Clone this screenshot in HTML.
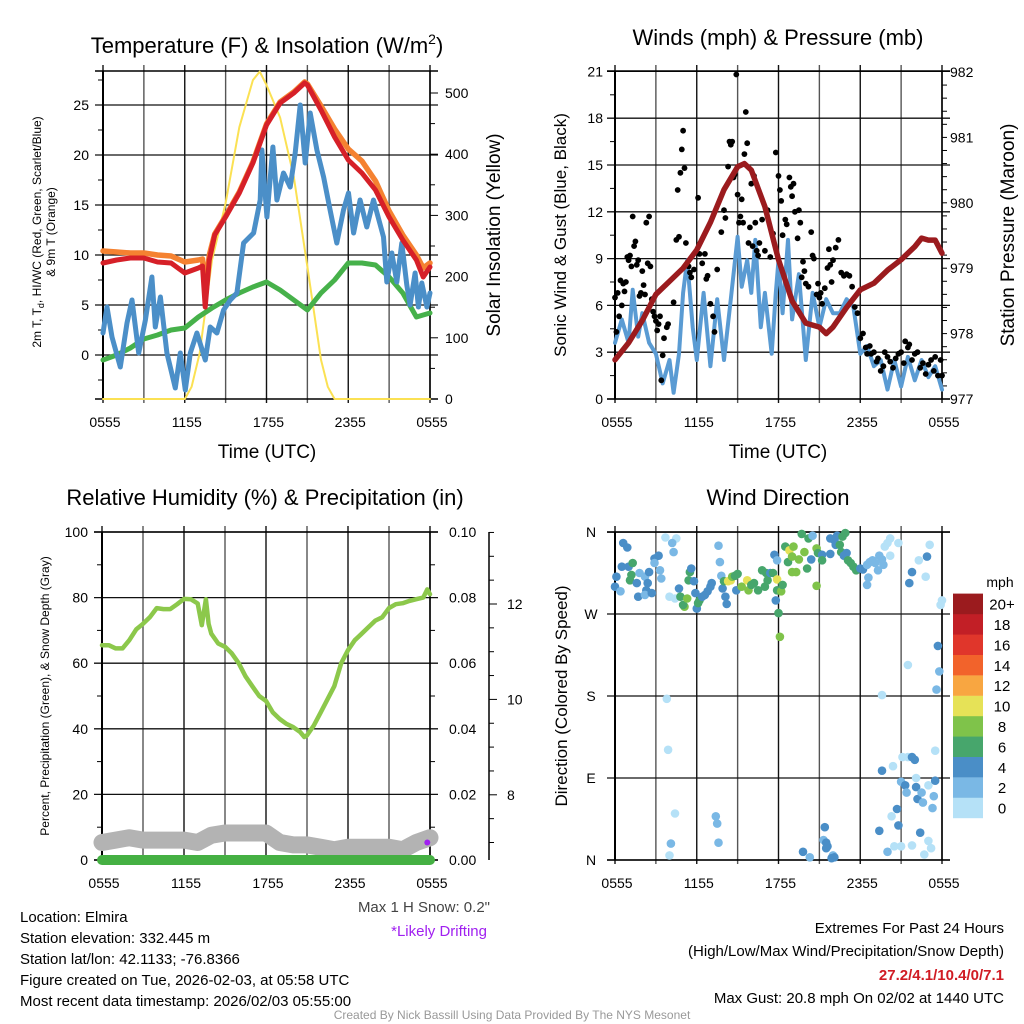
<!DOCTYPE html>
<html><head><meta charset="utf-8"><style>
html,body{margin:0;padding:0;background:#fff;}
svg{display:block;font-family:"Liberation Sans",Arial,sans-serif;}
</style></head><body>
<svg id="c" width="1024" height="1024" viewBox="0 0 1024 1024" xmlns="http://www.w3.org/2000/svg">
<rect width="1024" height="1024" fill="#fff"/>
<g id="grid"></g>
<g id="series"></g>
<g id="labels" fill="#000">
<text x="267" y="53" font-size="22" text-anchor="middle">Temperature (F) &amp; Insolation (W/m<tspan dy="-9" font-size="14">2</tspan><tspan dy="9">)</tspan></text>
<text x="778" y="45" font-size="22" text-anchor="middle">Winds (mph) &amp; Pressure (mb)</text>
<text x="265" y="505" font-size="22" text-anchor="middle">Relative Humidity (%) &amp; Precipitation (in)</text>
<text x="778" y="505" font-size="22" text-anchor="middle">Wind Direction</text>
<text transform="translate(41,232) rotate(-90)" font-size="12" text-anchor="middle">2m T, T<tspan dy="3" font-size="9">d</tspan><tspan dy="-3">, HI/WC (Red, Green, Scarlet/Blue)</tspan></text>
<text transform="translate(55,232) rotate(-90)" font-size="12" text-anchor="middle">&amp; 9m T (Orange)</text>
<text transform="translate(500,235) rotate(-90)" font-size="19" text-anchor="middle">Solar Insolation (Yellow)</text>
<text x="267" y="458" font-size="19" text-anchor="middle">Time (UTC)</text>
<text x="778" y="458" font-size="19" text-anchor="middle">Time (UTC)</text>
<text transform="translate(566,235) rotate(-90)" font-size="17" text-anchor="middle">Sonic Wind &amp; Gust (Blue, Black)</text>
<text transform="translate(1014,235) rotate(-90)" font-size="19" text-anchor="middle">Station Pressure (Maroon)</text>
<text transform="translate(49,696) rotate(-90)" font-size="12" text-anchor="middle">Percent, Precipitation (Green), &amp; Snow Depth (Gray)</text>
<text transform="translate(567,696) rotate(-90)" font-size="17" text-anchor="middle">Direction (Colored By Speed)</text>
<text x="490" y="912" font-size="15" text-anchor="end" fill="#444">Max 1 H Snow: 0.2"</text>
<text x="487" y="936" font-size="15" text-anchor="end" fill="#a020f0">*Likely Drifting</text>
<g font-size="15">
<text x="20" y="922">Location: Elmira</text>
<text x="20" y="943">Station elevation: 332.445 m</text>
<text x="20" y="964">Station lat/lon: 42.1133; -76.8366</text>
<text x="20" y="985">Figure created on Tue, 2026-02-03, at 05:58 UTC</text>
<text x="20" y="1006">Most recent data timestamp: 2026/02/03 05:55:00</text>
</g>
<g font-size="15" text-anchor="end">
<text x="1004" y="933">Extremes For Past 24 Hours</text>
<text x="1004" y="956">(High/Low/Max Wind/Precipitation/Snow Depth)</text>
<text x="1004" y="980" fill="#d01c24" font-weight="bold">27.2/4.1/10.4/0/7.1</text>
<text x="1004" y="1003">Max Gust: 20.8 mph On 02/02 at 1440 UTC</text>
</g>
<text x="512" y="1019" font-size="12" text-anchor="middle" fill="#999">Created By Nick Bassill Using Data Provided By The NYS Mesonet</text>
<text x="1000" y="587" font-size="14" text-anchor="middle">mph</text>
</g>
</svg>
<script>
// ---------- data ----------
const xTickLabels = ["0555","1155","1755","2355","0555"];
const tempTimes = [0,1,2,3,4,5,6,7,7.3,7.5,7.8,8.2,9,10,11,12,13,14,14.8,15,16,17,18,19,20,21,22,23,23.5,24];
const temp2m = [9.2,9.5,9.7,9.7,9.3,9.2,8.2,8.7,8.9,4.8,9.5,12,13.8,16.2,19.2,23,25.2,26.2,27.2,27,24.5,21.8,19.5,18.2,16.5,13.8,11.5,9.5,7.8,8.8];
const temp9m = [10.4,10.3,10.2,10.2,10.0,9.9,9.3,9.5,9.6,6.5,10,12.1,13.9,16.3,19.3,23.1,25.3,26.3,27.3,27.1,24.9,22.6,20.6,19.4,17.4,14.4,12,10,8.7,9.2];
const dewTimes = [0,1,2,3,4,5,6,7,8,9,10,11,12,13,14,15,16,17,18,19,20,21,22,23,24];
const dewpoint = [-0.5,0,0.7,1.6,2,2.5,2.7,3.8,4.7,5.5,6.2,6.8,7.3,6.5,5.5,4.5,6.2,7.5,9.2,9.2,9,7.8,6.2,3.8,4.2];
const wcTimes = [0,0.29,0.66,1.27,1.76,2.13,2.62,3.11,3.59,3.84,4.21,4.69,5.31,5.67,6.04,6.41,6.89,7.51,7.87,8.36,8.85,9.34,9.83,10.32,11.05,11.54,11.66,12.03,12.47,12.76,13.25,13.74,14.11,14.47,14.84,15.21,15.7,16.19,16.67,17.16,17.65,18.02,18.39,18.87,19.36,19.85,20.59,20.83,21.2,21.56,21.93,22.3,22.54,22.91,23.15,23.4,23.77,24];
const windChill = [2.2,4.8,1.8,-1.2,3.2,5.5,0.2,3.5,7.8,2.8,5.8,0.2,-3.3,0.2,-3.5,0.2,2.2,-0.5,2.8,2.2,4.5,5.5,6.2,11.2,12.2,15.5,20.5,13.8,20.8,15.5,18.2,16.8,20.2,25,19.2,24.2,20.5,17.8,14.5,11.2,14.5,16.2,12.2,15.5,12.8,15.5,11.8,7.3,10.2,7.3,11.2,7,5,8.2,4.8,7.2,4.8,6.2];
const solarTimes = [0,6,6.5,7.1,8,9,10,11,11.5,12,13,14,15,16,16.5,17,24];
const solar = [0,0,20,75,227,320,444,521,535,513,460,363,216,64,20,0,0];
const tempTicks = [0,5,10,15,20,25];
const solarTicks = [0,100,200,300,400,500];

const windTimes = [0,0.5,1,1.3,1.7,2,2.5,3,3.5,4,4.3,4.7,5,5.3,5.7,6,6.5,7,7.5,8,8.5,9,9.3,9.7,10,10.3,10.7,11,11.5,11.8,12,12.3,12.7,13,13.5,14,14.5,15,15.5,16,16.5,17,17.5,18,18.5,19,19.5,20,20.5,21,21.5,22,22.5,23,23.5,24];
const windSpeed = [3.6,5.1,3.6,7,4,5.5,3.6,2.9,1,2.5,0.4,2.9,6.8,8.9,4.6,2.5,6.8,2.1,6.4,2.5,6.4,10.4,7.2,8.9,6.8,10.2,4.6,6.8,2.9,6.8,8.9,5.5,10.2,5.1,8,2.5,6.8,4.6,6.4,5.5,5.5,6.4,5.9,2.9,3.4,2.1,2.5,0.6,2.5,0.8,2.7,1.2,2.5,1.4,2.1,0.6];
const gustTimes = [0,0.1,0.2,0.3,0.4,0.5,0.6,0.7,0.8,0.9,1,1.1,1.2,1.3,1.4,1.5,1.6,1.7,1.8,1.9,2,2.1,2.2,2.3,2.4,2.5,2.6,2.7,2.8,2.9,3.0,3.1,3.2,3.3,3.4,3.5,3.6,3.8,3.9,4.3,4.5,4.6,4.7,4.8,4.9,5.0,5.1,5.2,5.4,5.5,5.6,5.8,6.0,6.1,6.2,6.4,6.6,6.7,6.8,7.0,7.2,7.3,7.5,7.8,8.0,8.1,8.3,8.4,8.5,8.6,8.7,8.8,8.9,9.0,9.1,9.2,9.3,9.4,9.5,9.6,9.7,9.8,9.9,10.0,10.1,10.2,10.3,10.4,10.5,10.6,10.8,11,11.2,11.4,11.6,11.8,12.0,12.1,12.2,12.3,12.5,12.6,12.8,12.9,13.0,13.1,13.2,13.4,13.5,13.6,13.7,13.8,13.9,14.0,14.2,14.4,14.5,14.6,14.8,14.9,15.0,15.1,15.2,15.4,15.6,15.7,15.8,15.9,16.0,16.2,16.4,16.6,16.8,17.0,17.2,17.4,17.6,17.8,18.0,18.2,18.4,18.5,18.7,18.8,19.0,19.2,19.3,19.5,19.7,19.8,20.0,20.2,20.4,20.6,20.8,21.0,21.2,21.3,21.5,21.6,21.8,22.0,22.2,22.4,22.6,22.8,23.0,23.2,23.4,23.5,23.7,23.9,24];
const gustSpeed = [6.5,4.3,6.8,5.3,7.6,6,7.4,6.9,7.5,9.1,8.9,9.2,8.5,11.7,9.8,10.1,8.6,8.9,6.6,6.8,8.2,7.3,6.7,11.3,8.7,11.7,8.5,6.4,5.6,5.3,5.0,4.4,4.8,5.3,1.2,2.8,3.9,4.6,4.8,6.2,10.2,13.4,10.4,14.5,16,17.2,14.8,10.0,8.5,8.1,7.8,8.3,9.4,12.9,9.3,8.7,9.3,7.7,7.9,6.1,5.3,4.3,8.3,10.7,12.1,11.6,14.9,16.5,16.3,16.5,14.2,14.4,20.8,13.1,11.3,11.7,12.8,11.3,15.7,18.4,16.4,10.0,11.0,13.8,9.8,14.3,11.3,9.5,9.2,10,11.5,9.5,12.1,9.1,10.6,15.8,14.3,13.4,12.7,10.5,11.5,11.2,14.2,13.6,13.0,13.8,12.0,10.3,12.1,11.3,7.8,8.8,8.2,7.4,7.2,10.7,9.2,9.0,6.7,7.4,6.5,6.8,6.1,7.1,8.4,9.6,8.6,7.5,8.9,9.7,10.2,8.1,7.9,8.0,7.9,7.2,5.9,5.5,3.9,4.2,3.3,2.9,3.4,2.9,3.0,2.4,2.6,1.8,2.1,3.0,2.7,2.4,2.0,2.6,2.9,3.0,2.3,3.7,3.3,3.5,2.5,2.9,3.0,2.0,2.3,1.6,2.2,2.5,1.8,2.7,1.5,2.5,1.5];
const pressTimes = [0,1,2,3,4,5,6,7,8,9,9.5,10,11,12,13,14,15,15.5,16,17,18,19,20,21,22,22.5,23,23.5,24];
const pressure = [977.6,977.86,978.2,978.6,978.8,979.0,979.28,979.7,980.2,980.55,980.6,980.5,979.94,979.13,978.5,978.16,978.1,978.0,978.1,978.4,978.67,978.77,978.97,979.13,979.33,979.46,979.43,979.43,979.23];
const windTicks = [0,3,6,9,12,15,18,21];
const pressTicks = [977,978,979,980,981,982];

const rhTimes = [0,0.5,1,1.5,2,2.5,3,3.5,4,4.5,5,5.5,6,6.5,7,7.3,7.6,7.8,8,8.5,9,9.5,10,10.5,11,11.5,12,12.5,13,13.5,14,14.5,14.8,15,15.5,16,16.5,17,17.5,18,18.5,19,19.5,20,20.5,21,21.5,22,22.5,23,23.5,23.8,24];
const relHum = [65.5,65.5,64.5,64.5,67,70.3,72,74,76.8,76.5,76.5,78,79.6,79.5,78.2,71.6,79.5,72,69,66,65,63,60,56,53,50,48.5,45,43,41.5,40.5,39,37.5,38,41,45,49,53,60,64,67,69,71,73,74,76.8,78,78.3,79,79.5,80,82.5,81];
const hourTimes = [0,1,2,3,4,5,6,7,8,9,10,11,12,13,14,15,16,17,18,19,20,21,22,23,24];
const snowDepth = [7.0,7.05,7.1,7.05,7.05,7.05,7.05,7.0,7.15,7.2,7.2,7.2,7.2,7.0,6.95,6.95,6.9,6.85,6.9,6.9,6.9,6.9,6.85,7.0,7.1];
const precip = [0,0,0,0,0,0,0,0,0,0,0,0,0,0,0,0,0,0,0,0,0,0,0,0,0];
const rhTicks = [0,20,40,60,80,100];
const precipTicks = ["0.00","0.02","0.04","0.06","0.08","0.10"];
const snowTicks = [8,10,12];

const dirTimes = [0.6,0.9,0.1,0.0,0.4,0.5,1.0,1.3,1.2,1.1,1.6,1.7,1.8,2.2,2.3,2.4,2.5,2.2,2.7,2.9,3.2,2.9,3.3,3.4,3.7,4.5,4.2,4.3,4.0,4.4,4.7,4.8,5.1,5.0,5.3,5.5,5.4,5.6,5.8,5.9,6.0,6.1,6.2,6.4,6.6,6.8,7.0,7.1,7.6,7.7,7.8,7.9,8.1,8.2,8.0,8.3,8.5,8.6,8.8,9.0,8.9,9.3,9.7,9.8,10.0,10.2,10.5,10.8,11.0,11.1,11.2,11.4,11.6,11.7,11.9,11.9,11.9,11.8,12.0,12.1,12.2,12.3,12.5,12.7,12.8,13.0,13.1,13.0,13.3,13.5,13.7,13.9,14.1,14.2,14.4,14.5,14.8,14.9,14.8,15.2,15.2,15.8,15.8,16.1,16.3,16.2,16.5,16.6,16.7,16.9,16.8,17.0,17.1,17.3,17.5,17.7,18.0,18.2,18.5,18.6,18.5,18.7,18.9,19.1,19.3,19.4,19.6,19.7,19.8,20.0,20.2,20.2,20.8,21.8,21.6,22.3,22.8,22.9,23.1,24.0,23.9,23.7,21.5,23.8,23.6,3.8,3.9,19.6,19.6,20.4,21.1,21.5,21.8,22.0,22.1,23.5,21.0,21.3,21.4,22.1,22.2,22.5,22.6,23.0,23.5,23.4,23.3,20.7,20.3,20.8,19.4,22.4,20.0,20.5,21.0,21.8,23.0,23.2,22.7,4.4,4.1,4.0,7.4,7.5,7.6,15.4,15.3,15.5,15.6,15.5,13.8,14.3,16.0,16.1,15.9];
const dirDegrees = [348,343,311,300,295,322,322,326,313,307,304,289,315,311,296,304,316,291,293,331,334,326,318,309,354,353,348,338,289,287,298,289,278,280,287,316,307,320,306,293,276,282,285,289,291,295,300,304,345,327,312,298,289,281,306,306,307,311,312,314,296,300,307,296,302,304,296,318,300,315,307,315,315,335,329,308,296,285,271,245,295,302,344,327,340,333,344,316,316,330,358,338,320,353,330,356,342,337,301,335,329,336,353,351,356,346,346,338,355,359,334,337,329,326,322,318,320,319,324,310,302,327,329,326,318,334,330,324,344,348,334,353,348,316,304,329,311,333,346,285,280,235,214,207,187,177,121,181,98,103,113,113,113,110,90,120,86,82,74,80,67,74,63,82,87,70,57,56,48,38,32,30,9,15,15,16,21,13,6,51,18,5,48,40,19,36,22,19,15,13,9,3,5,3,2];
const dirSpeed = [5,5,5,5,3,5,5,7,7,7,5,5,3,3,5,5,5,3,5,5,5,3,3,3,1,1,3,3,1,1,5,7,9,7,9,7,7,5,5,5,5,7,7,5,5,5,5,5,3,3,3,5,5,5,7,11,11,9,7,7,5,9,11,9,7,7,7,7,7,7,7,5,7,5,3,11,7,5,7,9,9,7,7,7,11,9,9,9,9,9,7,9,7,7,5,3,9,7,9,5,7,5,5,5,5,5,7,7,7,7,5,5,7,7,7,7,5,5,3,3,3,3,3,3,3,3,3,3,1,1,1,1,1,5,5,1,1,5,1,1,1,5,1,3,3,1,1,1,5,1,1,1,5,5,1,1,3,5,3,5,5,3,3,1,5,3,3,5,1,5,5,5,3,1,1,1,1,1,1,1,3,1,3,3,3,5,3,5,5,5,5,3,3,5,5,5];
const dirTickLabels = ["N","E","S","W","N"];
const speedBinLabels = ["0","2","4","6","8","10","12","14","16","18","20+"];
const speedBinColors = ["#b5e1f7","#7ab8e5","#4a8ec7","#47a66c","#7fc34a","#e6e257","#f8a641","#f2632b","#e0362b","#c21f26","#9b1b1e"];

// ---------- scales ----------
const NS = "http://www.w3.org/2000/svg";
const grid = document.getElementById('grid');
const ser = document.getElementById('series');
const lab = document.getElementById('labels');
const P1 = {x0:103,x1:430,y0:71,y1:399};
const P2 = {x0:615,x1:942,y0:71,y1:399};
const P3 = {x0:102,x1:430,y0:532,y1:860};
const P4 = {x0:615,x1:942,y0:532,y1:860};
const tx = (P,t)=>P.x0 + t*(P.x1-P.x0)/24;
const y1L = v=>355 - 10*v;
const y1R = w=>399 - 0.612*w;
const y2W = v=>399 - 15.6*v;
const y2P = p=>399 - 65.4*(p-977);
const y3RH = v=>860 - 3.28*v;
const y3Pr = v=>860 - 3280*v;
const y3S = s=>604 + (12-s)*47.7;
const y4D = d=>860 - 0.911*d;

function mk(tag, attrs, parent){
  const e = document.createElementNS(NS, tag);
  for (const k in attrs) e.setAttribute(k, attrs[k]);
  parent.appendChild(e);
  return e;
}
function ln(x1,y1,x2,y2,c,w,parent){
  const e = mk('line',{x1:x1,y1:y1,x2:x2,y2:y2,stroke:c,'stroke-width':w},parent||grid);
  
  return e;
}
function txt(x,y,s,size,anchor,parent){
  const e = mk('text',{x:x,y:y,'font-size':size,'text-anchor':anchor||'middle'},parent||lab);
  e.textContent = s;
  return e;
}
function poly(P, ts, vs, yf, color, w, name){
  const pts = ts.map((t,i)=>tx(P,t).toFixed(1)+','+yf(vs[i]).toFixed(1)).join(' ');
  const e = mk('polyline',{points:pts,fill:'none',stroke:color,'stroke-width':w,'stroke-linejoin':'round','stroke-linecap':'round'},ser);
  
  
  return e;
}

function frame(P, hLines, name){
  for (let h=0; h<=24; h+=3){
    const g = ln(tx(P,h), P.y0-6, tx(P,h), P.y1+4, (h%6===0)?'#111':'#555', 1.4);
    
  }
  hLines.forEach(y=>{
    const g = ln(P.x0-8, y, P.x1+8, y, '#111', 1.3);
    
  });
  const b1 = ln(P.x0, P.y0, P.x0, P.y1, '#000', 2);
  
  const b2 = ln(P.x1, P.y0, P.x1, P.y1, '#000', 1.5);
  
  const b3 = ln(P.x0-8, P.y1, P.x1+8, P.y1, '#000', 1.5);
  
  const b4 = ln(P.x0-8, P.y0, P.x1+8, P.y0, '#000', 1.5);
  
  xTickLabels.forEach((s,i)=>{
    const e = txt(tx(P,i*6)+2, P.y1+28, s, 14);
    
    
  });
}

// ---------- panel 1 ----------
frame(P1, tempTicks.map(y1L), 'temp-panel');
for (let v=-2.5; v<=27.5; v+=5){ const m=ln(P1.x0-5,y1L(v),P1.x0,y1L(v),'#000',1);  }
for (let w=50; w<=500; w+=50){ const m=ln(P1.x1,y1R(w),P1.x1+(w%100?5:8),y1R(w),'#000',1);  }
tempTicks.forEach(v=>{ const e=txt(P1.x0-14,y1L(v)+5,String(v),14,'end');   });
solarTicks.forEach(w=>{ const e=txt(P1.x1+15,y1R(w)+5,String(w),14,'start');   });
poly(P1, solarTimes, solar, y1R, '#fbe153', 2, 'solar-insolation-line');
poly(P1, dewTimes, dewpoint, y1L, '#46b14a', 5, 'dewpoint-line');
poly(P1, tempTimes, temp9m, y1L, '#f58231', 5.5, 'temp-9m-line');
poly(P1, wcTimes, windChill, y1L, '#4b8fc8', 5, 'windchill-line');
poly(P1, tempTimes, temp2m, y1L, '#d62028', 5, 'temp-2m-line');

// ---------- panel 2 ----------
frame(P2, windTicks.map(y2W), 'wind-panel');
for (let v=1.5; v<21; v+=3){ const m=ln(P2.x0-5,y2W(v),P2.x0,y2W(v),'#000',1);  }
for (let p=977.2; p<982; p+=0.2){ const m=ln(P2.x1,y2P(p),P2.x1+5,y2P(p),'#000',1);  }
windTicks.forEach(v=>{ const e=txt(P2.x0-12,y2W(v)+5,String(v),14,'end');   });
pressTicks.forEach(p=>{ const e=txt(P2.x1+8,y2P(p)+5,String(p),14,'start');   });
poly(P2, windTimes, windSpeed, y2W, '#5a9bd3', 4, 'sonic-wind-line');
gustTimes.forEach((t,i)=>{
  const c = mk('circle',{cx:tx(P2,t).toFixed(1),cy:y2W(gustSpeed[i]).toFixed(1),r:2.9,fill:'#000'},ser);
  
  
});
poly(P2, pressTimes, pressure, y2P, '#9b1b1e', 5.5, 'pressure-line');

// ---------- panel 3 ----------
frame(P3, rhTicks.map(y3RH), 'humidity-panel');
for (let v=10; v<100; v+=20){ const m=ln(P3.x0-5,y3RH(v),P3.x0,y3RH(v),'#000',1);   }
for (let v=0.01; v<0.1; v+=0.02){ const m=ln(P3.x1,y3Pr(v),P3.x1+5,y3Pr(v),'#000',1);  }
rhTicks.forEach(v=>{ const e=txt(P3.x0-14,y3RH(v)+5,String(v),14,'end');   });
precipTicks.forEach(s=>{ const e=txt(P3.x1+19,y3Pr(parseFloat(s))+5,s,14,'start');   });
const sAx = ln(489, 532, 489, 860, '#000', 1.5);

for (let s=7; s<=13.5; s+=0.5){ const m=ln(489,y3S(s),489+(s%2===0?8:5),y3S(s),'#000',1);  }
snowTicks.forEach(s=>{ const e=txt(507,y3S(s)+5,String(s),14,'start');   });
poly(P3, hourTimes, snowDepth, y3S, '#b3b3b3', 17, 'snow-depth-line');
poly(P3, hourTimes, precip, y3Pr, '#45b043', 10, 'precip-line');
poly(P3, rhTimes, relHum, y3RH, '#8cc84b', 4.5, 'relative-humidity-line');
const drift = mk('circle',{cx:tx(P3,23.8).toFixed(1),cy:y3S(7.0).toFixed(1),r:3,fill:'#a020f0'},ser);



// ---------- panel 4 ----------
frame(P4, [0,90,180,270,360].map(y4D), 'direction-panel');
dirTickLabels.forEach((s,i)=>{ const e=txt(591,y4D(i*90)+5,s,14,'middle');   });
dirTimes.forEach((t,i)=>{
  const bin = Math.min(10, Math.floor(dirSpeed[i]/2));
  const c = mk('circle',{cx:tx(P4,t).toFixed(1),cy:y4D(dirDegrees[i]).toFixed(1),r:4.3,fill:speedBinColors[bin]},ser);
  
  
});
// colorbar
speedBinColors.forEach((col,i)=>{
  const y = 818 - (i+1)*20.4;
  const r = mk('rect',{x:953,y:y.toFixed(1),width:30,height:20.6,fill:col},lab);
  
  
  const e = txt(1002, y+16, speedBinLabels[i], 15, 'middle');
  
  
});
</script>
</body></html>
